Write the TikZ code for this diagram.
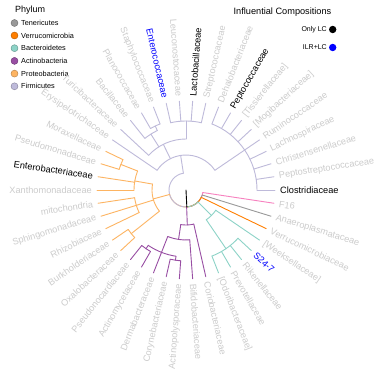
\documentclass[tikz,border=0pt]{standalone}
\usepackage{fontspec}
\setmainfont{Liberation Sans}
\definecolor{firm}{HTML}{BEBADA}
\definecolor{prot}{HTML}{FDB462}
\definecolor{actb}{HTML}{984EA3}
\definecolor{bact}{HTML}{8DD3C7}
\definecolor{verr}{HTML}{FF7F00}
\definecolor{tene}{HTML}{999999}
\definecolor{pnk}{HTML}{F781BF}
\definecolor{labgrey}{HTML}{CCCCCC}
\def\dA{8.571429}
\newcommand{\rd}[4]{\draw[br,draw=#1] ({#2*\dA}:#3pt) -- ({#2*\dA}:#4pt);}
\newcommand{\ac}[4]{\draw[br,draw=#1] ({#2*\dA}:#4pt) arc[start angle={#2*\dA}, end angle={#3*\dA}, radius=#4pt];}
\newcommand{\tlR}[3]{\node[lab,text=#3,rotate={#1*\dA},anchor=west] (t#1) at ({#1*\dA}:94pt) {#2};}
\newcommand{\tlL}[3]{\node[lab,text=#3,rotate={#1*\dA-180},anchor=east] (t#1) at ({#1*\dA}:94pt) {#2};}
\begin{document}
\begin{tikzpicture}[x=1pt,y=1pt,
  br/.style={line width=0.9pt,line cap=round},
  lab/.style={font=\fontsize{9.2}{10}\selectfont,inner sep=0pt},
  legtxt/.style={font=\fontsize{7.3}{8}\selectfont,inner sep=0pt,anchor=west},
  legdot/.style={circle,inner sep=0pt,minimum size=7pt,line width=0.4pt}]
\useasboundingbox[fill=white] (0,0) rectangle (374,378);
% legend: phylum
\node[font=\fontsize{9}{10}\selectfont,inner sep=0pt,anchor=west] (phy) at (15,368) {Phylum};
\node[legdot,fill=tene,draw=tene!70!black] (c1) at (14.5,355) {};
\node[legtxt] (e1) at (21,355) {Tenericutes};
\node[legdot,fill=verr,draw=verr!70!black] (c2) at (14.5,342.5) {};
\node[legtxt] (e2) at (21,342.5) {Verrucomicrobia};
\node[legdot,fill=bact,draw=bact!70!black] (c3) at (14.5,329.8) {};
\node[legtxt] (e3) at (21,329.8) {Bacteroidetes};
\node[legdot,fill=actb,draw=actb!70!black] (c4) at (14.5,317.1) {};
\node[legtxt] (e4) at (21,317.1) {Actinobacteria};
\node[legdot,fill=prot,draw=prot!70!black] (c5) at (14.5,304.4) {};
\node[legtxt] (e5) at (21,304.4) {Proteobacteria};
\node[legdot,fill=firm,draw=firm!70!black] (c6) at (14.5,291.7) {};
\node[legtxt] (e6) at (21,291.7) {Firmicutes};
% legend: compositions
\node[font=\fontsize{9.2}{10}\selectfont,inner sep=0pt] (inf) at (282.5,366) {Influential Compositions};
\node[font=\fontsize{7}{8}\selectfont,inner sep=0pt,anchor=east] (olc) at (327,348.5) {Only LC};
\node[legdot,minimum size=7.4pt,fill=black] (dk) at (332.7,348.5) {};
\node[font=\fontsize{7}{8}\selectfont,inner sep=0pt,anchor=east] (ilr) at (327,330.5) {ILR+LC};
\node[legdot,minimum size=7.4pt,fill=blue] (db) at (332.7,330.5) {};
\begin{scope}[shift={(186,188)}]
% root arc segments
\ac{prot}{31.8294}{22.7778}{17}
\ac{firm}{31.8294}{11.5278}{17}
\ac{actb}{31.8294}{31.75}{17}
\ac{pnk}{31.8294}{41}{17}
\ac{tene}{31.8294}{40}{17}
\ac{verr}{31.8294}{39}{17}
\ac{bact}{31.8294}{36.75}{17}
% Firmicutes
\rd{firm}{11.5278}{17}{35}
\ac{firm}{4}{17}{35}
\rd{firm}{4}{35}{71}
\ac{firm}{0}{8}{71}
\foreach \k in {0,...,8}{\rd{firm}{\k}{71}{89}}
\rd{firm}{13.5833}{35}{51}
\ac{firm}{10.5}{16}{51}
\rd{firm}{10.5}{51}{69}
\ac{firm}{9}{12}{69}
\foreach \k in {9,...,12}{\rd{firm}{\k}{69}{89}}
\rd{firm}{14.25}{51}{66}
\ac{firm}{13.5}{15}{66}
\rd{firm}{13.5}{66}{71}
\ac{firm}{13}{14}{71}
\foreach \k in {13,14}{\rd{firm}{\k}{71}{89}}
\rd{firm}{15}{66}{89}
\rd{firm}{16}{51}{89}
\rd{firm}{17}{35}{89}
% Proteobacteria
\rd{prot}{22.7778}{17}{34}
\ac{prot}{19.8333}{25.5}{34}
\rd{prot}{19.8333}{34}{52}
\ac{prot}{18.5}{21}{52}
\rd{prot}{18.5}{52}{70}
\ac{prot}{18}{19}{70}
\foreach \k in {18,19}{\rd{prot}{\k}{70}{89}}
\foreach \k in {20,21}{\rd{prot}{\k}{52}{89}}
\rd{prot}{23}{34}{52}
\ac{prot}{22}{24}{52}
\foreach \k in {22,23,24}{\rd{prot}{\k}{52}{89}}
\rd{prot}{25.5}{34}{70}
\ac{prot}{25}{26}{70}
\foreach \k in {25,26}{\rd{prot}{\k}{70}{89}}
% Actinobacteria
\rd{actb}{31.75}{17}{35}
\ac{actb}{30.5}{33}{35}
\rd{actb}{33}{35}{89}
\rd{actb}{30.5}{35}{50}
\ac{actb}{29}{32}{50}
\rd{actb}{32}{50}{89}
\rd{actb}{29}{50}{67}
\ac{actb}{27.5}{30.5}{67}
\rd{actb}{29}{67}{89}
\rd{actb}{27.5}{67}{71}
\ac{actb}{27}{28}{71}
\foreach \k in {27,28}{\rd{actb}{\k}{71}{89}}
\rd{actb}{30.5}{67}{71}
\ac{actb}{30}{31}{71}
\foreach \k in {30,31}{\rd{actb}{\k}{71}{89}}
% Bacteroidetes
\rd{bact}{36.75}{17}{36}
\ac{bact}{35.5}{38}{36}
\rd{bact}{38}{36}{89}
\rd{bact}{35.5}{36}{71}
\ac{bact}{34}{37}{71}
\foreach \k in {34,...,37}{\rd{bact}{\k}{71}{89}}
% others
\rd{verr}{39}{17}{89}
\rd{tene}{40}{17}{89}
\rd{pnk}{41}{17}{89}
% root edge
\draw[br,draw=black] (0,0) -- ({31.8294*\dA}:17pt);
% labels
\tlR{0}{Clostridiaceae}{black}
\tlR{1}{Peptostreptococcaceae}{labgrey}
\tlR{2}{Christensenellaceae}{labgrey}
\tlR{3}{Lachnospiraceae}{labgrey}
\tlR{4}{Ruminococcaceae}{labgrey}
\tlR{5}{[Mogibacteriaceae]}{labgrey}
\tlR{6}{[Tissierellaceae]}{labgrey}
\tlR{7}{Peptococcaceae}{black}
\tlR{8}{Dehalobacteriaceae}{labgrey}
\tlR{9}{Streptococcaceae}{labgrey}
\tlR{10}{Lactobacillaceae}{black}
\tlL{11}{Leuconostocaceae}{labgrey}
\tlL{12}{Enterococcaceae}{blue}
\tlL{13}{Staphylococcaceae}{labgrey}
\tlL{14}{Planococcaceae}{labgrey}
\tlL{15}{Bacillaceae}{labgrey}
\tlL{16}{Turicibacteraceae}{labgrey}
\tlL{17}{Erysipelotrichaceae}{labgrey}
\tlL{18}{Moraxellaceae}{labgrey}
\tlL{19}{Pseudomonadaceae}{labgrey}
\tlL{20}{Enterobacteriaceae}{black}
\tlL{21}{Xanthomonadaceae}{labgrey}
\tlL{22}{mitochondria}{labgrey}
\tlL{23}{Sphingomonadaceae}{labgrey}
\tlL{24}{Rhizobiaceae}{labgrey}
\tlL{25}{Burkholderiaceae}{labgrey}
\tlL{26}{Oxalobacteraceae}{labgrey}
\tlL{27}{Pseudonocardiaceae}{labgrey}
\tlL{28}{Actinomycetaceae}{labgrey}
\tlL{29}{Dermabacteraceae}{labgrey}
\tlL{30}{Corynebacteriaceae}{labgrey}
\tlL{31}{Actinopolysporaceae}{labgrey}
\tlR{32}{Bifidobacteriaceae}{labgrey}
\tlR{33}{Coriobacteriaceae}{labgrey}
\tlR{34}{[Odoribacteraceae]}{labgrey}
\tlR{35}{Prevotellaceae}{labgrey}
\tlR{36}{Rikenellaceae}{labgrey}
\tlR{37}{S24-7}{blue}
\tlR{38}{[Weeksellaceae]}{labgrey}
\tlR{39}{Verrucomicrobiaceae}{labgrey}
\tlR{40}{Anaeroplasmataceae}{labgrey}
\tlR{41}{F16}{labgrey}
\end{scope}
\end{tikzpicture}
\end{document}
